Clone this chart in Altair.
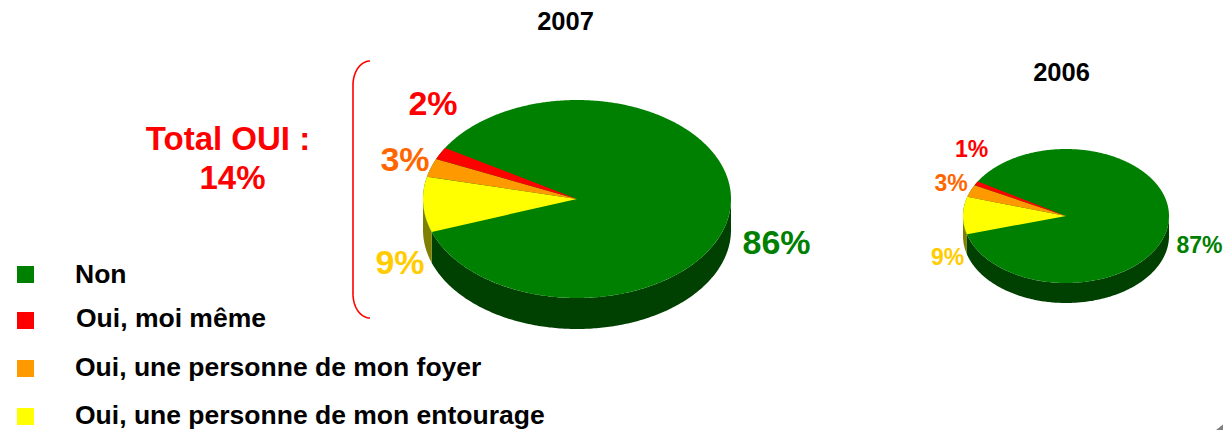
import math
import altair as alt
import pandas as pd

# --- chart values ---
slices = ["Non", "Oui, moi même", "Oui, une personne de mon foyer", "Oui, une personne de mon entourage"]
slice_colors = ["#008000", "#ff0000", "#ff9900", "#ffff00"]
values_2007 = [86, 2, 3, 9]
values_2006 = [87, 1, 3, 9]
years = ["2007", "2006"]

# --- layout of the two tilted pies: centre x, centre y, radius x, radius y, depth ---
pie_geometry = {"2007": (577, 199, 154, 99, 31), "2006": (1066, 216, 103, 67, 20)}
start_angle = 211  # where "Non" starts, clockwise on screen
side_green = "#004000"
side_olive = "#808000"

title_text = ["2007", "2006"]
title_x = [565.5, 1061.5]
title_y = [22, 73]
title_size = [25.5, 25.5]

label_text = ["2%", "3%", "9%", "86%", "1%", "3%", "9%", "87%", "Total OUI :", "14%"]
label_x = [433, 405, 400, 776.5, 971.5, 951, 947.5, 1199.5, 228, 232.5]
label_y = [105, 161, 264, 244, 150, 184, 258, 246, 140, 179]
label_size = [34, 34, 34, 34, 23, 23, 23, 23, 33, 33]
label_color = ["#ff0000", "#ff6600", "#ffcc00", "#008000", "#ff0000", "#ff6600", "#ffcc00", "#008000", "#ff0000", "#ff0000"]

legend_square_x = [25.5, 25.5, 25.5, 25.5]
legend_y = [274.5, 320.5, 368.5, 416.5]
legend_text_y = [275, 319, 367.5, 415.5]
legend_text_x = [75, 76, 75, 75]

X = alt.Scale(domain=[8, 1223], range=[0, 1215], nice=False, zero=False)
Y = alt.Scale(domain=[8, 430], range=[0, 422], nice=False, zero=False)


def arc(geom, t0, t1, n):
    cx, cy, rx, ry, _ = geom
    return [(cx + rx * math.cos(math.radians(t0 + (t1 - t0) * i / n)),
             cy + ry * math.sin(math.radians(t0 + (t1 - t0) * i / n))) for i in range(n + 1)]


def envelope(poly):
    """Upper and lower boundary of a convex polygon, for a filled area mark."""
    rows = []
    edges = list(zip(poly, poly[1:] + poly[:1]))
    for x in sorted({round(p[0], 2) for p in poly}):
        ys = []
        for (x0, y0), (x1, y1) in edges:
            if min(x0, x1) - 0.01 <= x <= max(x0, x1) + 0.01:
                if abs(x1 - x0) < 1e-6:
                    ys += [y0, y1]
                else:
                    u = min(1, max(0, (x - x0) / (x1 - x0)))
                    ys.append(y0 + u * (y1 - y0))
        if ys:
            rows.append({"x": x, "y": min(ys), "y2": max(ys)})
    return rows


def area(rows, color):
    return alt.Chart(pd.DataFrame(rows)).mark_area(color=color, opacity=1).encode(
        x=alt.X("x:Q", scale=X, axis=None),
        y=alt.Y("y:Q", scale=Y, axis=None),
        y2="y2:Q",
    )


layers = []
for year, values in zip(years, [values_2007, values_2006]):
    geom = pie_geometry[year]
    cx, cy, rx, ry, depth = geom
    non = values[0]
    non_end = start_angle + 3.6 * non - 360
    # side wall
    wall = [{"x": p[0], "y": p[1], "y2": p[1] + depth} for p in arc(geom, 0, non_end, 200)]
    wall2 = [{"x": p[0], "y": p[1], "y2": p[1] + depth} for p in arc(geom, non_end, 180, 40)]
    layers.append(area(wall, side_green))
    layers.append(area(wall2, side_olive))
    # top face: the whole disc in "Non", other slices on top
    layers.append(area(envelope(arc(geom, 0, 360, 720)), slice_colors[0]))
    t = non_end
    for idx in [3, 2, 1]:
        sweep = 3.6 * values[idx]
        poly = [(cx, cy)] + arc(geom, t, t + sweep, 40)
        layers.append(area(envelope(poly), slice_colors[idx]))
        t += sweep

# bracket
br_x, br_top, br_bottom, br_rx, br_ry = 353, 61, 318, 17, 24
bracket = []
for i in range(21):
    a = math.radians(180 + 90 * (20 - i) / 20)
    bracket.append({"x": br_x + br_rx + br_rx * math.cos(a), "y": br_top + br_ry + br_ry * math.sin(a)})
for i in range(21):
    a = math.radians(180 - 90 * i / 20)
    bracket.append({"x": br_x + br_rx + br_rx * math.cos(a), "y": br_bottom - br_ry + br_ry * math.sin(a)})
bracket = [dict(b, o=i) for i, b in enumerate(bracket)]
layers.append(alt.Chart(pd.DataFrame(bracket)).mark_line(color="#ff0000", strokeWidth=1.6).encode(
    x=alt.X("x:Q", scale=X, axis=None), y=alt.Y("y:Q", scale=Y, axis=None), order="o:Q"))

# corner
layers.append(area([{"x": 1216, "y": 430, "y2": 430}, {"x": 1223, "y": 424.4, "y2": 430}], "#808080"))

# texts
txt = pd.DataFrame({"t": title_text + label_text, "x": title_x + label_x, "y": title_y + label_y,
                    "s": title_size + label_size, "c": ["#000000"] * 2 + label_color})
layers.append(alt.Chart(txt).mark_text(font="Liberation Sans", fontWeight="bold", align="center", baseline="middle").encode(
    x=alt.X("x:Q", scale=X, axis=None), y=alt.Y("y:Q", scale=Y, axis=None), text="t:N",
    size=alt.Size("s:Q", scale=None, legend=None), color=alt.Color("c:N", scale=None, legend=None)))

# legend
leg = pd.DataFrame({"name": slices, "sx": legend_square_x, "y": legend_y, "ty": legend_text_y, "tx": legend_text_x, "c": slice_colors})
layers.append(alt.Chart(leg).mark_point(shape="square", filled=True, size=289, opacity=1).encode(
    x=alt.X("sx:Q", scale=X, axis=None), y=alt.Y("y:Q", scale=Y, axis=None),
    color=alt.Color("c:N", scale=None, legend=None)))
layers.append(alt.Chart(leg).mark_text(font="Liberation Sans", fontWeight="bold", fontSize=26.5, align="left", baseline="middle", color="#000000").encode(
    x=alt.X("tx:Q", scale=X, axis=None), y=alt.Y("ty:Q", scale=Y, axis=None), text="name:N"))

chart = alt.layer(*layers).properties(
    width=1215, height=422, padding=0, autosize=alt.AutoSizeParams(type="none"), background="#ffffff"
).configure_view(stroke=None)

chart.save("out.html", embed_options={"renderer": "svg", "actions": False})
